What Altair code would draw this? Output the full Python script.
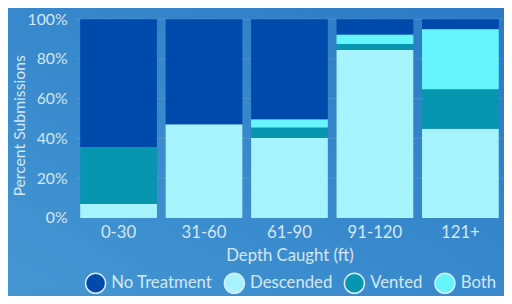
import altair as alt
import pandas as pd

depths = ["0-30", "31-60", "61-90", "91-120", "121+"]
treatments = ["No Treatment", "Descended", "Vented", "Both"]
stack_order = {"Descended": 0, "Vented": 1, "Both": 2, "No Treatment": 3}
no_treatment = [64.5, 53.0, 50.5, 7.8, 5.1]
descended = [7.0, 47.0, 40.2, 84.5, 44.9]
vented = [28.5, 0.0, 5.3, 3.0, 19.8]
both = [0.0, 0.0, 4.0, 4.7, 30.2]
colors = ["#004aab", "#a6f2fd", "#0895b0", "#66f4fd"]
grid_values = [0.2, 0.4, 0.6, 0.8, 1.0]
y_ticks = [0, 0.2, 0.4, 0.6, 0.8, 1.0]

series = {"No Treatment": no_treatment, "Descended": descended, "Vented": vented, "Both": both}
rows = []
for t, vals in series.items():
    for d, v in zip(depths, vals):
        rows.append({"depth": d, "treatment": t, "value": v / 100.0, "order": stack_order[t]})
df = pd.DataFrame(rows)
gdf = pd.DataFrame({"value": grid_values})

W, H = 434, 202
L, T, R, B = 69, 9, 1, 77
FONT = "Lato"
TXT = "#d3e7f7"

y_axis = alt.Axis(title="Percent Submissions", format=".0%", values=y_ticks,
                  labelFontSize=16, labelFont=FONT, labelColor=TXT, labelPadding=9, ticks=False,
                  tickSize=0, domain=False, grid=False,
                  titleFont=FONT, titleFontSize=16, titleFontWeight="normal", titleColor=TXT,
                  titleBaseline="alphabetic", titleAngle=270, titleX=-52, titleY=108,
                  titleAlign="center", zindex=2)
y_scale = alt.Scale(domain=[0, 1])

grad = alt.LinearGradient(
    gradient="linear",
    stops=[alt.GradientStop(offset=0, color="#4496d2"), alt.GradientStop(offset=1, color="#2b7ac6")],
    x1=0, y1=1, x2=1, y2=0,
)

bg = alt.Chart(alt.Data(values=[{"a": 1}])).mark_rect(fill=grad).encode(
    x=alt.value(-L - 2), x2=alt.value(W + R + 2), y=alt.value(-T - 2), y2=alt.value(H + B + 2)
)

grid = alt.Chart(gdf).mark_rule(color="#ffffff", opacity=0.13, strokeWidth=1).encode(
    y=alt.Y("value:Q", scale=y_scale, axis=y_axis),
    x=alt.value(0), x2=alt.value(W),
)

bars = alt.Chart(df).mark_bar(opacity=1).encode(
    x=alt.X("depth:N", sort=depths, scale=alt.Scale(paddingInner=0.102, paddingOuter=0.05),
            axis=alt.Axis(title="Depth Caught (ft)", labelAngle=0, labelFontSize=17, labelFont=FONT,
                          labelColor=TXT, labelBaseline="alphabetic", labelPadding=20, ticks=False,
                          tickSize=0, domain=False, grid=False, titleFont=FONT, titleFontSize=17,
                          titleFontWeight="normal", titleColor=TXT, titleBaseline="alphabetic",
                          titleY=43, zindex=2)),
    y=alt.Y("value:Q", stack="zero", scale=y_scale, axis=y_axis),
    color=alt.Color("treatment:N", scale=alt.Scale(domain=treatments, range=colors),
                    legend=alt.Legend(title=None, orient="none", direction="horizontal",
                                      legendX=9, legendY=257, symbolType="circle", symbolSize=415,
                                      symbolStrokeColor="#d6ecfa", symbolStrokeWidth=1.5,
                                      symbolOpacity=1, labelFont=FONT, labelFontSize=17,
                                      labelColor=TXT, labelOffset=5, columnPadding=8, padding=0,
                                      zindex=2)),
    order=alt.Order("order:Q"),
)

chart = alt.layer(bg, grid, bars).properties(
    width=W, height=H,
    autosize=alt.AutoSizeParams(type="none"),
    padding={"left": L, "top": T, "right": R, "bottom": B},
    background="#3787cb",
).configure_view(stroke=None)

chart.save("out.html", embed_options={"renderer": "svg", "actions": False})
